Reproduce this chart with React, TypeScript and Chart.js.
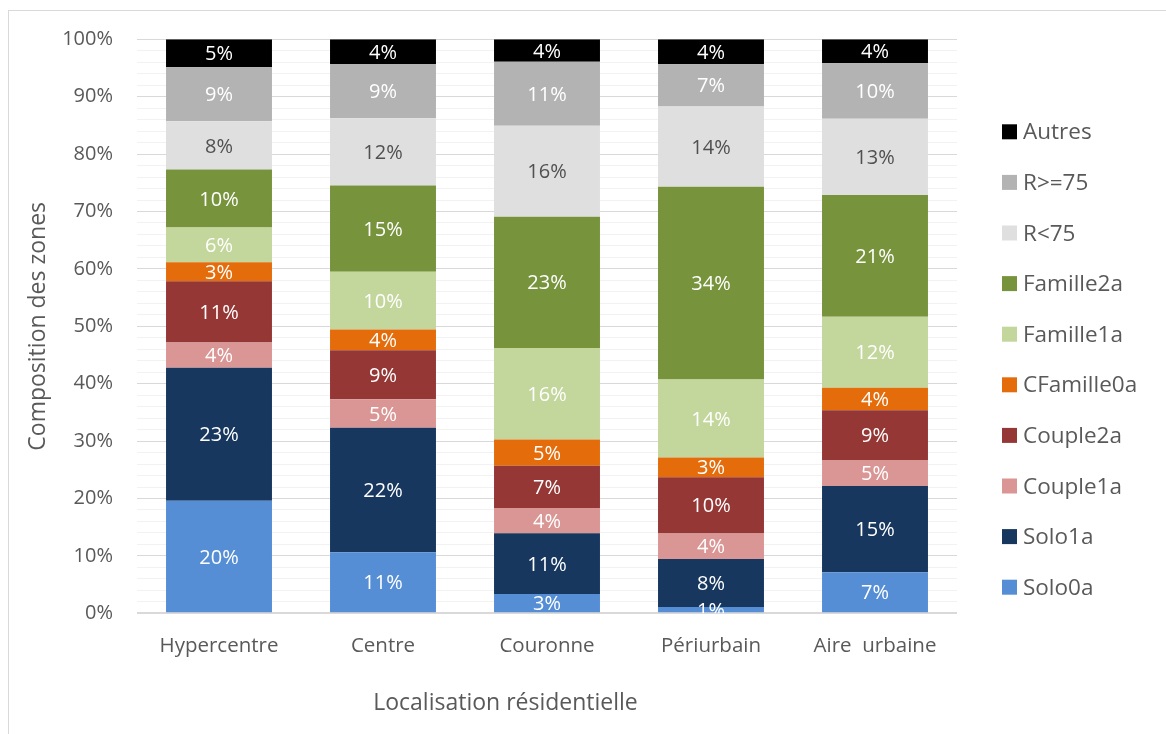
import React, { useEffect, useRef } from 'react';
import { Chart, registerables } from 'chart.js';

Chart.register(...registerables);

// ---- Data ----
const categories = ['Hypercentre', 'Centre', 'Couronne', 'Périurbain', 'Aire  urbaine'];

const solo0a = [19.6, 10.63, 3.36, 1.1, 7.14];
const solo1a = [23.2, 21.71, 10.57, 8.36, 15.03];
const couple1a = [4.36, 4.95, 4.41, 4.45, 4.53];
const couple2a = [10.7, 8.55, 7.37, 9.81, 8.66];
const cfamille0a = [3.3, 3.6, 4.55, 3.43, 3.94];
const famille1a = [6.05, 10.05, 15.97, 13.59, 12.37];
const famille2a = [10.1, 15.03, 22.87, 33.57, 21.2];
const rInf75 = [8.4, 11.72, 15.85, 13.99, 13.29];
const rSup75 = [9.4, 9.45, 11.15, 7.37, 9.65];
const autres = [4.89, 4.31, 3.9, 4.33, 4.19];

const seriesNames = ['Solo0a', 'Solo1a', 'Couple1a', 'Couple2a', 'CFamille0a', 'Famille1a', 'Famille2a', 'R<75', 'R>=75', 'Autres'];
const seriesValues = [solo0a, solo1a, couple1a, couple2a, cfamille0a, famille1a, famille2a, rInf75, rSup75, autres];
const seriesColors = ['#558ED5', '#17375E', '#D99694', '#953735', '#E46C0A', '#C3D69B', '#77933C', '#DFDFDF', '#B3B3B3', '#000000'];
const labelColors = ['#FFFFFF', '#FFFFFF', '#FFFFFF', '#FFFFFF', '#FFFFFF', '#FFFFFF', '#FFFFFF', '#505050', '#FFFFFF', '#FFFFFF'];

const yTickLabels = ['0%', '10%', '20%', '30%', '40%', '50%', '60%', '70%', '80%', '90%', '100%'];

const xTitle = 'Localisation résidentielle';
const yTitle = 'Composition des zones';

const FONT = '"Open Sans", "DejaVu Sans", sans-serif';
const TEXT_GREY = '#595959';

// ---- Plugins ----
const valueLabels = {
  id: 'valueLabels',
  afterDatasetsDraw(chart: any) {
    const { ctx, chartArea } = chart;
    ctx.save();
    ctx.beginPath();
    ctx.rect(chartArea.left, chartArea.top, chartArea.right - chartArea.left, chartArea.bottom - chartArea.top);
    ctx.clip();
    ctx.font = `20px ${FONT}`;
    ctx.textAlign = 'center';
    ctx.textBaseline = 'alphabetic';
    chart.data.datasets.forEach((ds: any, di: number) => {
      const meta = chart.getDatasetMeta(di);
      meta.data.forEach((bar: any, i: number) => {
        const v = ds.data[i];
        const p = bar.getProps(['x', 'y', 'base'], true);
        const cy = (p.y + p.base) / 2;
        ctx.fillStyle = labelColors[di];
        ctx.fillText(Math.round(v) + '%', p.x, cy + 7.1);
      });
    });
    ctx.restore();
  },
};

const sideLegendAndTitles = {
  id: 'sideLegendAndTitles',
  afterDraw(chart: any) {
    const { ctx, chartArea } = chart;
    ctx.save();
    // legend (reverse order: Autres on top)
    ctx.font = `22.5px ${FONT}`;
    ctx.textAlign = 'left';
    ctx.textBaseline = 'alphabetic';
    const n = chart.data.datasets.length;
    for (let k = 0; k < n; k++) {
      const di = n - 1 - k;
      const ds = chart.data.datasets[di];
      const baseline = chartArea.top + 100 + k * 50.6;
      ctx.fillStyle = ds.backgroundColor;
      ctx.fillRect(chartArea.right + 45, baseline - 15, 15, 15);
      ctx.fillStyle = TEXT_GREY;
      ctx.fillText(ds.label, chartArea.right + 66, baseline);
    }
    // x axis title
    ctx.font = `23px ${FONT}`;
    ctx.textAlign = 'center';
    ctx.fillStyle = TEXT_GREY;
    ctx.fillText(xTitle, (chartArea.left + chartArea.right) / 2 - 41.5, chartArea.bottom + 96.7);
    // y axis title
    ctx.translate(44.5, (chartArea.top + chartArea.bottom) / 2);
    ctx.rotate(-Math.PI / 2);
    ctx.fillText(yTitle, 0, 0);
    ctx.restore();
  },
};

export default function App() {
  const canvasRef = useRef<HTMLCanvasElement | null>(null);

  useEffect(() => {
    const canvas = canvasRef.current;
    if (!canvas) return;
    const chart = new Chart(canvas, {
      type: 'bar',
      data: {
        labels: categories,
        datasets: seriesNames.map((name, i) => ({
          label: name,
          data: seriesValues[i],
          backgroundColor: seriesColors[i],
          borderWidth: 0,
          categoryPercentage: 1,
          barPercentage: 0.646,
        })),
      },
      options: {
        responsive: false,
        animation: false,
        devicePixelRatio: 1,
        layout: { padding: { top: 39.3, right: 209, bottom: 0, left: 0 } },
        plugins: {
          legend: { display: false },
          tooltip: { enabled: false },
          title: { display: false },
        },
        scales: {
          x: {
            stacked: true,
            afterFit: (s: any) => { s.height = 120.7; },
            grid: { display: false, drawTicks: false },
            border: { display: false },
            ticks: {
              padding: 21,
              color: TEXT_GREY,
              font: { family: FONT, size: 20.5 },
              maxRotation: 0,
              autoSkip: false,
            },
          },
          y: {
            stacked: true,
            min: 0,
            max: 100,
            afterFit: (s: any) => { s.width = 137; },
            border: { display: false },
            grid: {
              drawTicks: false,
              color: (c: any) => (c.tick && c.tick.value % 10 === 0 ? '#D9D9D9' : '#F2F2F2'),
              lineWidth: (c: any) => (c.tick && c.tick.value === 0 ? 2 : 1),
            },
            ticks: {
              stepSize: 2,
              autoSkip: false,
              padding: 24,
              color: TEXT_GREY,
              font: { family: FONT, size: 20 },
              callback: (v: any) => (Number(v) % 10 === 0 ? yTickLabels[Math.round(Number(v) / 10)] : ''),
            },
          },
        },
      },
      plugins: [valueLabels, sideLegendAndTitles],
    });
    return () => chart.destroy();
  }, []);

  return (
    <>
      <div
        style={{
          position: 'fixed',
          left: 8,
          top: 10,
          width: 1200,
          height: 800,
          borderLeft: '1px solid #D9D9D9',
          borderTop: '1px solid #D9D9D9',
          boxSizing: 'border-box',
          background: '#FFFFFF',
        }}
      />
      <canvas
        ref={canvasRef}
        width={1166}
        height={734}
        style={{ position: 'fixed', left: 0, top: 0, width: 1166, height: 734 }}
      />
    </>
  );
}
